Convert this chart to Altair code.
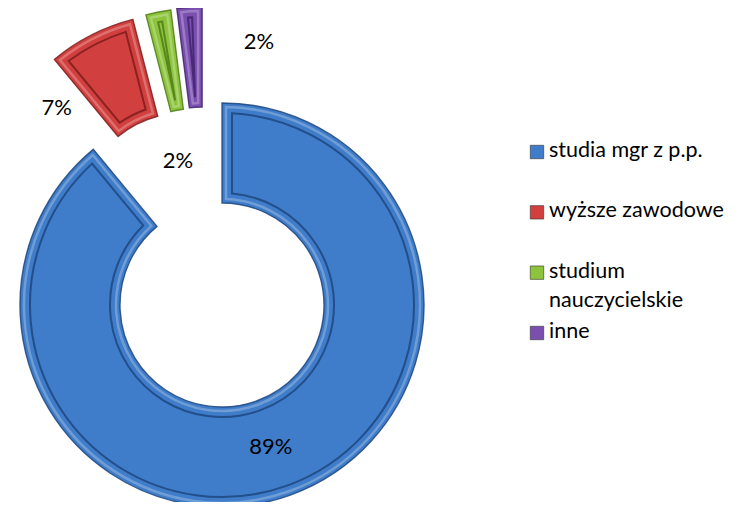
import math
import altair as alt
import pandas as pd

# ---- data ----
categories = ["studia mgr z p.p.", "wyższe zawodowe", "studium nauczycielskie", "inne"]
values = [89, 7, 2, 2]
pct_labels = ["89%", "7%", "2%", "2%"]
exploded = [0, 1, 1, 1]
legend_labels = ["studia mgr z p.p.", "wyższe zawodowe", "studium\nnauczycielskie", "inne"]

# ---- styling / layout ----
fill_colors = ["#3f7cc9", "#d23f3f", "#8dc43c", "#7a4fb0"]
edge_colors = ["#1d467f", "#7e1c1c", "#4f7d17", "#40236c"]
CX, CY = 214, 297          # donut centre in view pixels
R_OUT, R_IN = 202, 102
EXPLODE = 98
INSET = 10
HL = 4
# label placement (angle in degrees clockwise from 12 o'clock, radius in px)
label_angle = [161, 320, 343, 8]
label_radius = [150, 257, 151, 266]

total = sum(values)
rows = []
start = 0.0
for i, (c, v) in enumerate(zip(categories, values)):
    a0 = start / total * 360
    a1 = (start + v) / total * 360
    start += v
    rows.append(dict(cat=c, value=v, order=i, a0=a0, a1=a1, exp=exploded[i],
                     pct=pct_labels[i], leg=legend_labels[i]))
df = pd.DataFrame(rows)
df["mid"] = (df["a0"] + df["a1"]) / 2
ex = df[df["exp"] == 1]
group_mid = (ex["a0"].min() + ex["a1"].max()) / 2
direction = df["mid"] + (group_mid - df["mid"]) * 0.5
df["cx"] = CX + df["exp"] * EXPLODE * direction.apply(lambda d: math.sin(math.radians(d)))
df["cy"] = CY - df["exp"] * EXPLODE * direction.apply(lambda d: math.cos(math.radians(d)))
df["lx"] = [CX + r * math.sin(math.radians(a)) for a, r in zip(label_angle, label_radius)]
df["ly"] = [CY - r * math.cos(math.radians(a)) for a, r in zip(label_angle, label_radius)]

color = alt.Color("cat:N", scale=alt.Scale(domain=categories, range=fill_colors), legend=None)
stroke = alt.Stroke("cat:N", scale=alt.Scale(domain=categories, range=edge_colors), legend=None)
theta = alt.Theta("value:Q", stack=True, scale=alt.Scale(domain=[0, total]))
xpos = alt.X("cx:Q", scale=None, axis=None)
ypos = alt.Y("cy:Q", scale=None, axis=None)
order = alt.Order("order:Q")

base = alt.Chart(df)

arcs = base.mark_arc(outerRadius=R_OUT, innerRadius=R_IN, strokeWidth=0).encode(
    theta=theta, color=color, x=xpos, y=ypos, order=order
)
edge = base.mark_arc(outerRadius=R_OUT, innerRadius=R_IN, filled=False, strokeWidth=1.4,
                     strokeOpacity=0.85).encode(
    theta=theta, x=xpos, y=ypos, order=order, stroke=stroke
)
pad_h = math.sqrt((R_IN + HL) ** 2 + (R_OUT - HL) ** 2)
highlight = base.mark_arc(
    outerRadius=R_OUT - HL, innerRadius=R_IN + HL, filled=False, strokeWidth=2.5,
    padAngle=2 * HL / pad_h, stroke="#ffffff", strokeOpacity=0.25,
).encode(theta=theta, x=xpos, y=ypos, order=order)
pad_r = math.sqrt((R_IN + INSET) ** 2 + (R_OUT - INSET) ** 2)
inner_line = base.mark_arc(
    outerRadius=R_OUT - INSET, innerRadius=R_IN + INSET, filled=False, strokeWidth=2,
    padAngle=2 * INSET / pad_r, strokeOpacity=0.85,
).encode(theta=theta, x=xpos, y=ypos, order=order, stroke=stroke)

labels = base.mark_text(font="Lato", fontSize=22, color="#000000").encode(
    x=alt.X("lx:Q", scale=None, axis=None),
    y=alt.Y("ly:Q", scale=None, axis=None),
    text="pct:N",
)

leg_y = alt.Y("cat:N", scale=alt.Scale(domain=categories, range=[144, 325], padding=0), axis=None)
leg_sq = base.mark_square(size=180, opacity=1, stroke="#333333", strokeWidth=0.6).encode(
    x=alt.value(529), y=leg_y, color=color
)
leg_txt = base.mark_text(font="Lato", fontSize=21.5, align="left", baseline="top", dy=-12,
                         lineBreak="\n", lineHeight=29, color="#000000").encode(
    x=alt.value(541), y=leg_y, text="leg:N"
)

chart = alt.layer(arcs, edge, highlight, inner_line, labels, leg_sq, leg_txt).resolve_scale(
    x="independent", y="independent"
).properties(
    width=733, height=494, autosize="none", padding=0
).configure_view(stroke=None)

chart.save("out.html", embed_options={"renderer": "svg", "actions": False})
